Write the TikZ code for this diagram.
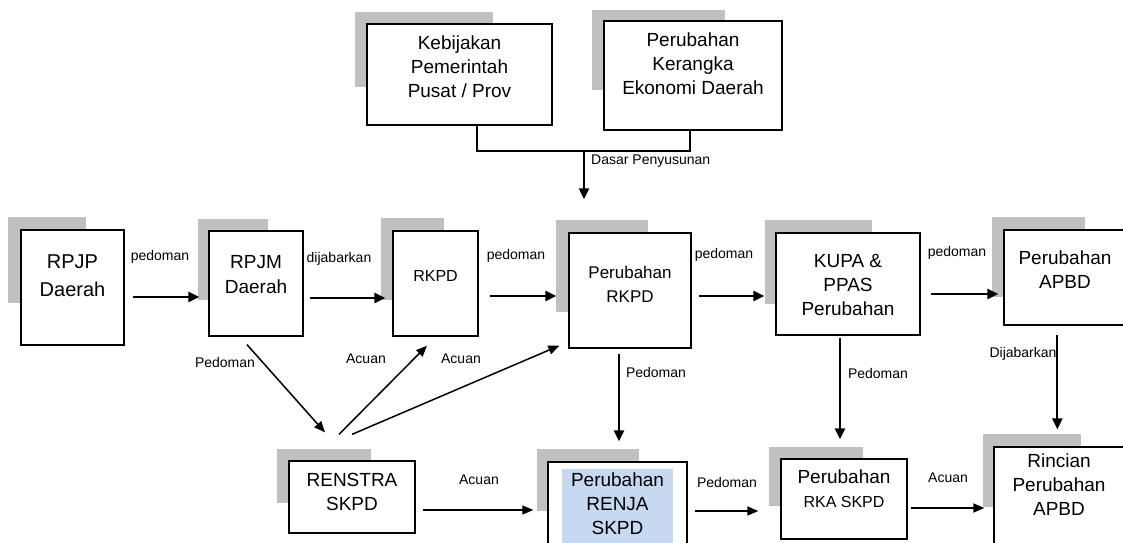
\documentclass[tikz,border=0pt]{standalone}
\usepackage{fontspec}
\setmainfont{Liberation Sans}
\usetikzlibrary{arrows.meta,fit}
\definecolor{bayang}{RGB}{192,192,192}
\definecolor{sorot}{RGB}{198,217,241}
\tikzset{
  kotak/.style={draw, line width=1.3pt, fill=white, inner sep=0pt},
  teks/.style={align=center, font=\fontsize{19}{24}\selectfont},
  ket/.style={font=\fontsize{14}{16}\selectfont, inner sep=1pt},
  panah/.style={-{Triangle[length=11pt,width=10pt]}, line width=2.4pt},
  panahtipis/.style={-{Triangle[length=11pt,width=9pt]}, line width=1.5pt},
}
\begin{document}
\begin{tikzpicture}[x=1pt,y=-1pt]
  \useasboundingbox (0,0) rectangle (1123,542);
  \clip (0,0) rectangle (1123,542);
  % bayangan
  \fill[bayang] (355,12) rectangle (493,87);
  \fill[bayang] (592,10) rectangle (725,90);
  \fill[bayang] (8,217) rectangle (86,303);
  \fill[bayang] (198,219) rectangle (268,300);
  \fill[bayang] (381,218) rectangle (444,300);
  \fill[bayang] (556,220) rectangle (648,312);
  \fill[bayang] (765,220) rectangle (872,304);
  \fill[bayang] (992,217) rectangle (1085,297);
  \fill[bayang] (277,449) rectangle (371,503);
  \fill[bayang] (537,449) rectangle (639,511);
  \fill[bayang] (769,447) rectangle (863,506);
  \fill[bayang] (983,434) rectangle (1081,507);
  % kotak
  \node[kotak, fit={(367,24) (552,125)}] (keb) {};
  \node[kotak, fit={(604,21) (782,130)}] (ker) {};
  \node[kotak, fit={(21,230) (124,345)}] (rpjp) {};
  \node[kotak, fit={(209,231) (303,336)}] (rpjm) {};
  \node[kotak, fit={(393,231) (478,336)}] (rkpd) {};
  \node[kotak, fit={(569,233) (691,348)}] (prkpd) {};
  \node[kotak, fit={(776,233) (920,335)}] (kupa) {};
  \node[kotak, fit={(1004,230) (1140,325)}] (papbd) {};
  \node[kotak, fit={(289,461) (415,533)}] (renstra) {};
  \node[kotak, fit={(548,462) (687,560)}] (renja) {};
  \node[kotak, fit={(781,459) (907,539)}] (rka) {};
  \node[kotak, fit={(994,447) (1140,560)}] (rincian) {};
  \fill[sorot] (562,469) rectangle (673,560);
  % teks
  \node[teks] (t-keb) at (459.5,66.5) {Kebijakan\\Pemerintah\\Pusat / Prov};
  \node[teks] (t-ker) at (693,64) {Perubahan\\Kerangka\\Ekonomi Daerah};
  \node[teks, font=\fontsize{20}{28}\selectfont] (t-rpjp) at (72.5,276) {RPJP\\Daerah};
  \node[teks, font=\fontsize{19}{25}\selectfont] (t-rpjm) at (256,274.5) {RPJM\\Daerah};
  \node[teks, font=\fontsize{16}{20}\selectfont] (t-rkpd) at (435.5,276) {RKPD};
  \node[teks, font=\fontsize{17}{24}\selectfont] (t-prkpd) at (630,284) {Perubahan\\RKPD};
  \node[teks] (t-kupa) at (848,285.5) {KUPA \&\\PPAS\\Perubahan};
  \node[teks] (t-papbd) at (1065,270) {Perubahan\\APBD};
  \node[teks] (t-renstra) at (352,491.5) {RENSTRA\\SKPD};
  \node[teks] (t-renja) at (617.5,503.5) {Perubahan\\RENJA\\SKPD};
  \node[teks] (t-rka) at (844,489) {Perubahan\\{\fontsize{16}{20}\selectfont RKA SKPD}};
  \node[teks] (t-rincian) at (1059,484.5) {Rincian\\Perubahan\\APBD};
  % keterangan
  \node[ket] (l1) at (160,257) {pedoman};
  \node[ket] (l2) at (339,259) {dijabarkan};
  \node[ket] (l3) at (516,256) {pedoman};
  \node[ket] (l4) at (724,255) {pedoman};
  \node[ket] (l5) at (957,253) {pedoman};
  \node[ket, anchor=west] (l6) at (590,161) {Dasar Penyusunan};
  \node[ket] (l7) at (225,362) {Pedoman};
  \node[ket] (l8) at (366,359) {Acuan};
  \node[ket] (l9) at (461,359) {Acuan};
  \node[ket] (l10) at (656,372) {Pedoman};
  \node[ket] (l11) at (878,373) {Pedoman};
  \node[ket] (l12) at (1023,354) {Dijabarkan};
  \node[ket] (l13) at (479,480) {Acuan};
  \node[ket] (l14) at (727,482) {Pedoman};
  \node[ket] (l15) at (948,478) {Acuan};
  % panah
  \draw[line width=2pt] ([xshift=17.5pt]keb.south) -- ++(0,25) -| ([xshift=-3pt]ker.south);
  \coordinate (dasar) at (584,150);
  \draw[panah, line width=2pt] (dasar) -- ([shift={(-46,-33)}]prkpd.north);
  \draw[panah] ([shift={(8,9.5)}]rpjp.east) -- ([shift={(-9,13.5)}]rpjm.west);
  \draw[panah] ([shift={(6,14.5)}]rpjm.east) -- ([shift={(-7,14.5)}]rkpd.west);
  \draw[panah] ([shift={(11,12.5)}]rkpd.east) -- ([shift={(-12,5.5)}]prkpd.west);
  \draw[panah] ([shift={(7,5.5)}]prkpd.east) -- ([shift={(-11,12)}]kupa.west);
  \draw[panah] ([shift={(10,10)}]kupa.east) -- ([shift={(-5,16.5)}]papbd.west);
  \draw[panahtipis] ([shift={(-9,8)}]rpjm.south) -- ([shift={(-27,-28)}]renstra.north);
  \draw[panahtipis] ([shift={(-13,-26)}]renstra.north) -- ([shift={(-8.5,9)}]rkpd.south);
  \draw[panahtipis] ([shift={(0,-26)}]renstra.north) -- ([shift={(-9,-3)}]prkpd.south west);
  \draw[panah, line width=2.2pt] ([shift={(-11,5)}]prkpd.south) -- ([shift={(1.5,-20)}]renja.north);
  \draw[panah, line width=2.2pt] ([shift={(-8,2)}]kupa.south) -- ([shift={(-4,-19)}]rka.north);
  \draw[panah, line width=2.2pt] ([shift={(54,9)}]papbd.south west) -- ([shift={(64,-17)}]rincian.north west);
  \draw[panahtipis] ([shift={(7,13)}]renstra.east) -- ([shift={(-14,-1)}]renja.west);
  \draw[panahtipis] ([shift={(7,0)}]renja.east) -- ([shift={(-22,12)}]rka.west);
  \draw[panahtipis] ([shift={(3,9)}]rka.east) -- ([shift={(-9,4.5)}]rincian.west);
\end{tikzpicture}
\end{document}
